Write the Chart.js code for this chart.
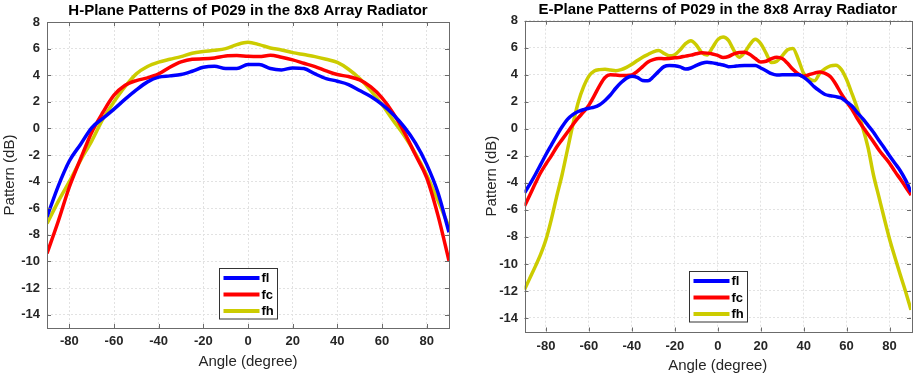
<!DOCTYPE html>
<html>
<head>
<meta charset="utf-8">
<title>P029 array radiator patterns</title>
<script src="https://cdn.jsdelivr.net/npm/chart.js@4.4.1/dist/chart.umd.min.js"></script>
<style>
    body { margin: 0; background: #fff; }
    #wrap { position: relative; width: 915px; height: 376px; }
    canvas { position: absolute; top: 0; }
    #hPlane { left: 0; }
    #ePlane { left: 457px; }
</style>
</head>
<body>
<div id="wrap">
    <canvas id="hPlane" width="457" height="376"></canvas>
    <canvas id="ePlane" width="458" height="376"></canvas>
</div>
<script>
// H-plane: angle every 5 degrees
const hAngles = [-90, -85, -80, -75, -70, -65, -60, -55, -50, -45, -40, -35, -30, -25, -20, -15, -10, -5, 0,
    5, 10, 15, 20, 25, 30, 35, 40, 45, 50, 55, 60, 65, 70, 75, 80, 85, 90];
const hFl = [-6.65, -4.35, -2.45, -1.2, 0.05, 0.75, 1.45, 2.2, 2.9, 3.5, 3.86, 3.95, 4.05, 4.3, 4.6, 4.68, 4.5, 4.5, 4.8,
    4.8, 4.5, 4.4, 4.55, 4.5, 4.1, 3.75, 3.55, 3.3, 2.85, 2.4, 1.8, 1.05, 0.1, -1.1, -2.7, -4.8, -7.8];
const hFc = [-9.4, -7.0, -4.4, -2.3, -0.3, 1.2, 2.5, 3.25, 3.6, 3.8, 4.1, 4.6, 5.0, 5.2, 5.23, 5.3, 5.45, 5.48, 5.42,
    5.4, 5.5, 5.35, 5.15, 4.9, 4.65, 4.33, 4.05, 3.9, 3.65, 3.12, 2.3, 1.15, -0.3, -2.0, -3.7, -6.5, -9.95];
const hFh = [-7.15, -5.5, -4.0, -2.4, -0.95, 0.7, 2.0, 3.15, 4.1, 4.65, 4.98, 5.2, 5.4, 5.65, 5.78, 5.87, 6.0, 6.3, 6.47,
    6.3, 6.05, 5.9, 5.7, 5.55, 5.4, 5.2, 4.96, 4.45, 3.75, 2.85, 1.8, 0.6, -0.55, -1.9, -3.5, -5.4, -7.4];

// E-plane: angle every 2.5 degrees (the fh ripple is narrow)
const eAngles = [-90, -87.5, -85, -82.5, -80, -77.5, -75, -72.5, -70, -67.5, -65, -62.5, -60, -57.5, -55, -52.5,
    -50, -47.5, -45, -42.5, -40, -37.5, -35, -32.5, -30, -27.5, -25, -22.5, -20, -17.5, -15, -12.5, -10, -7.5, -5, -2.5,
    0, 2.5, 5, 7.5, 10, 12.5, 15, 17.5, 20, 22.5, 25, 27.5, 30, 32.5, 35, 37.5, 40, 42.5, 45, 47.5, 50, 52.5,
    55, 57.5, 60, 62.5, 65, 67.5, 70, 72.5, 75, 77.5, 80, 82.5, 85, 87.5, 90];
const eFl = [-4.74, -4.1, -3.4, -2.65, -1.9, -1.2, -0.5, 0.15, 0.7, 1.05, 1.28, 1.42, 1.52, 1.6, 1.78, 2.1,
    2.5, 3.0, 3.42, 3.75, 3.88, 3.8, 3.58, 3.55, 3.85, 4.25, 4.6, 4.68, 4.66, 4.58, 4.42, 4.5, 4.69, 4.85, 4.93, 4.88,
    4.8, 4.72, 4.6, 4.62, 4.67, 4.69, 4.69, 4.68, 4.5, 4.3, 4.08, 3.98, 4.0, 4.0, 4.0, 4.0, 3.82, 3.5, 3.1, 2.8, 2.54, 2.45,
    2.38, 2.28, 2.0, 1.68, 1.2, 0.75, 0.25, -0.25, -0.85, -1.4, -2.0, -2.55, -3.1, -3.8, -4.67];
const eFc = [-5.72, -4.9, -4.05, -3.25, -2.6, -2.0, -1.35, -0.8, -0.25, 0.3, 0.8, 1.25, 1.75, 2.45, 3.2, 3.8,
    4.0, 3.98, 3.95, 3.95, 3.98, 4.25, 4.6, 4.95, 5.12, 5.2, 5.19, 5.2, 5.25, 5.3, 5.38, 5.45, 5.55, 5.62, 5.6, 5.54,
    5.43, 5.28, 5.35, 5.55, 5.65, 5.66, 5.5, 5.2, 4.95, 5.0, 5.19, 5.3, 5.2, 4.85, 4.4, 4.05, 3.88, 4.0, 4.12, 4.2, 4.1, 3.85,
    3.3, 2.6, 2.0, 1.45, 0.75, 0.15, -0.4, -0.95, -1.55, -2.05, -2.55, -3.15, -3.72, -4.3, -4.91];
const eFh = [-11.9, -11.05, -10.2, -9.3, -8.2, -6.7, -5.0, -3.4, -1.55, 0.3, 1.95, 3.1, 3.9, 4.28, 4.38, 4.4,
    4.35, 4.3, 4.38, 4.55, 4.78, 5.05, 5.3, 5.5, 5.7, 5.8, 5.58, 5.4, 5.48, 5.85, 6.3, 6.52, 6.2, 5.65, 5.46, 6.0,
    6.6, 6.8, 6.55, 5.8, 5.3, 5.65, 6.25, 6.62, 6.3, 5.6, 4.9, 5.0, 5.4, 5.85, 5.95, 5.15, 4.1, 3.7, 3.55, 4.1, 4.45, 4.66,
    4.7, 4.4, 3.65, 2.6, 1.5, 0.1, -1.4, -3.4, -5.0, -6.6, -8.15, -9.5, -10.8, -12.05, -13.4];

const xTicks = [-80, -60, -40, -20, 0, 20, 40, 60, 80];
const yTicks = [-14, -12, -10, -8, -6, -4, -2, 0, 2, 4, 6, 8];
const seriesNames = ['fl', 'fc', 'fh'];
const seriesColors = ['#0000ff', '#ff0000', '#cccc00'];

const FONT = '"Liberation Sans", Arial, Helvetica, sans-serif';
const AXIS_COLOR = '#6b6b6b';

// MATLAB-like box with inward tick marks
const boxPlugin = {
    id: 'boxPlugin',
    afterDraw(chart) {
        const { ctx, chartArea: a, scales } = chart;
        ctx.save();
        ctx.strokeStyle = AXIS_COLOR;
        ctx.lineWidth = 1;
        ctx.beginPath();
        xTicks.forEach((v) => {
            const px = Math.round(scales.x.getPixelForValue(v)) + 0.5;
            ctx.moveTo(px, a.bottom); ctx.lineTo(px, a.bottom - 4);
            ctx.moveTo(px, a.top); ctx.lineTo(px, a.top + 4);
        });
        yTicks.forEach((v) => {
            const py = Math.round(scales.y.getPixelForValue(v)) + 0.5;
            ctx.moveTo(a.left, py); ctx.lineTo(a.left + 4, py);
            ctx.moveTo(a.right, py); ctx.lineTo(a.right - 4, py);
        });
        ctx.stroke();
        ctx.strokeRect(Math.round(a.left) + 0.5, Math.round(a.top) + 0.5, Math.round(a.width), Math.round(a.height));
        ctx.restore();
    }
};

// legend box near the bottom centre of the plot area
const boxLegend = {
    id: 'boxLegend',
    afterDatasetsDraw(chart) {
        const { ctx, chartArea: a } = chart;
        const w = 58, h = 50.5;
        const x0 = Math.round((a.left + a.right) / 2 - w / 2) + 0.5;
        const y0 = Math.round(a.bottom - 10 - h) + 0.5;
        ctx.save();
        ctx.fillStyle = '#fff';
        ctx.fillRect(x0, y0, w, h);
        ctx.strokeStyle = '#333';
        ctx.lineWidth = 1;
        ctx.strokeRect(x0, y0, w, h);
        chart.data.datasets.forEach((ds, i) => {
            const y = y0 + 9.5 + i * 16.5;
            ctx.strokeStyle = ds.borderColor;
            ctx.lineWidth = 4;
            ctx.beginPath();
            ctx.moveTo(x0 + 4, y);
            ctx.lineTo(x0 + 40, y);
            ctx.stroke();
            ctx.fillStyle = '#000';
            ctx.font = 'bold 13px ' + FONT;
            ctx.textBaseline = 'middle';
            ctx.textAlign = 'left';
            ctx.fillText(ds.label, x0 + 42, y + 0.5);
        });
        ctx.restore();
    }
};

function makeChart(canvasId, title, angles, series, geo) {
    const datasets = series.map((values, i) => ({
        label: seriesNames[i],
        data: angles.map((a, k) => ({ x: a, y: values[k] })),
        borderColor: seriesColors[i],
        borderWidth: 3.5,
        pointRadius: 0,
        cubicInterpolationMode: 'monotone',
        fill: false,
    }));

    return new Chart(document.getElementById(canvasId), {
        type: 'line',
        data: { datasets: datasets },
        options: {
            responsive: false,
            animation: false,
            layout: { padding: { left: 0, right: geo.padRight, top: 0, bottom: 0 } },
            plugins: {
                legend: { display: false },
                tooltip: { enabled: false },
                title: {
                    display: true,
                    text: title,
                    fullSize: false,
                    color: '#000',
                    font: { family: FONT, size: 15, weight: 'bold' },
                    padding: geo.titlePad,
                },
            },
            scales: {
                x: {
                    type: 'linear',
                    min: -90,
                    max: 90,
                    afterBuildTicks: (s) => { s.ticks = xTicks.map((v) => ({ value: v })); },
                    afterFit: (s) => { s.height = geo.xHeight; },
                    grid: { color: '#e2e2e2', drawTicks: false },
                    border: { display: false, dash: [2, 2] },
                    ticks: {
                        padding: geo.xTickPad,
                        color: '#262626',
                        maxRotation: 0,
                        autoSkip: false,
                        font: { family: FONT, size: 13, weight: 'bold' },
                    },
                    title: {
                        display: true,
                        text: 'Angle (degree)',
                        color: '#262626',
                        font: { family: FONT, size: 15 },
                        padding: { top: 0, bottom: geo.xTitlePad },
                    },
                },
                y: {
                    min: -15,
                    max: 8,
                    afterBuildTicks: (s) => { s.ticks = yTicks.map((v) => ({ value: v })); },
                    afterFit: (s) => { s.width = geo.yWidth; },
                    grid: { color: '#e2e2e2', drawTicks: false },
                    border: { display: false, dash: [2, 2] },
                    ticks: {
                        padding: geo.yTickPad,
                        color: '#262626',
                        font: { family: FONT, size: 13, weight: 'bold' },
                    },
                    title: {
                        display: true,
                        text: 'Pattern (dB)',
                        color: '#262626',
                        font: { family: FONT, size: 15 },
                        padding: { top: geo.yTitlePad, bottom: 0 },
                    },
                },
            },
        },
        plugins: [boxPlugin, boxLegend],
    });
}

makeChart('hPlane', 'H-Plane Patterns of P029 in the 8x8 Array Radiator', hAngles, [hFl, hFc, hFh], {
    padRight: 8,
    titlePad: { top: 2, bottom: 2 },
    xHeight: 48,
    xTickPad: 5.9,
    xTitlePad: 5,
    yWidth: 47,
    yTickPad: 7,
    yTitlePad: 0.5,
});

makeChart('ePlane', 'E-Plane Patterns of P029 in the 8x8 Array Radiator', eAngles, [eFl, eFc, eFh], {
    padRight: 4,
    titlePad: { top: 1.2, bottom: 1.5 },
    xHeight: 44.5,
    xTickPad: 6.7,
    xTitlePad: 1,
    yWidth: 67.5,
    yTickPad: 6.5,
    yTitlePad: 25.7,
});
</script>
</body>
</html>
